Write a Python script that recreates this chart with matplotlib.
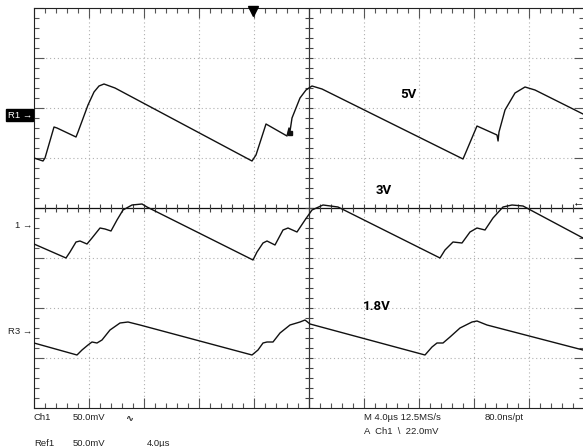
import numpy as np
from matplotlib import pyplot as plt

# time in microseconds (4 us/div), level in divisions from screen centre
r1_t = [0, 0.655, 0.8, 1.455, 1.673, 3.055, 3.2, 3.927, 4.364, 4.727, 5.091, 5.891,
        15.855, 16.145, 16.873, 18.4, 18.545, 18.6, 18.764, 19.345, 19.782, 20.218, 20.945,
        31.2, 31.418, 32.218, 33.673, 33.75, 33.818, 34.255, 34.982, 35.709, 36.436, 39.927]
r1_v = [1.0, 0.94, 1.0, 1.62, 1.6, 1.42, 1.52, 2.06, 2.32, 2.44, 2.48, 2.4,
        0.94, 1.06, 1.68, 1.44, 1.6, 1.5, 1.8, 2.2, 2.36, 2.44, 2.38,
        0.98, 1.12, 1.64, 1.46, 1.34, 1.52, 1.96, 2.3, 2.42, 2.36, 1.88]

ch1_t = [0, 2.327, 2.618, 3.055, 3.345, 3.855, 4.218, 4.8, 5.164, 5.6, 6.036, 6.473,
         7.127, 7.855, 8.218, 15.927, 16.218, 16.655, 16.945, 17.527, 18.109, 18.473,
         19.127, 19.709, 20.218, 21.018, 22.109, 29.527, 29.891, 30.473, 31.127, 31.709,
         32.218, 32.8, 33.382, 34.109, 34.764, 35.564, 39.927]
ch1_v = [-0.72, -1.0, -0.88, -0.68, -0.66, -0.72, -0.6, -0.4, -0.42, -0.46, -0.24, -0.04,
         0.06, 0.08, 0.02, -1.04, -0.88, -0.7, -0.66, -0.74, -0.44, -0.4,
         -0.48, -0.24, -0.04, 0.06, 0.02, -1.0, -0.84, -0.68, -0.7, -0.48,
         -0.4, -0.44, -0.2, 0.02, 0.06, 0.04, -0.6]

r3_t = [0, 3.127, 3.491, 3.927, 4.218, 4.582, 4.945, 5.527, 6.255, 6.836, 7.709,
        15.855, 16.291, 16.655, 16.945, 17.382, 17.891, 18.618, 19.345, 19.709, 20.073,
        28.436, 28.945, 29.309, 29.745, 30.255, 30.982, 31.855, 32.218, 32.945, 39.927]
r3_v = [-2.7, -2.94, -2.84, -2.74, -2.68, -2.7, -2.64, -2.44, -2.3, -2.28, -2.34,
        -2.94, -2.84, -2.7, -2.68, -2.68, -2.5, -2.34, -2.28, -2.24, -2.32,
        -2.94, -2.78, -2.7, -2.7, -2.58, -2.4, -2.28, -2.26, -2.34, -2.84]

ref_levels = {"R1": 1.86, "1": -0.34, "R3": -2.46}
trigger_time = 15.93
trigger_level = 0.12

W, H = 583, 447
fig = plt.figure(figsize=(W / 100, H / 100), dpi=100)
fig.patch.set_facecolor("white")
ax = fig.add_axes([34 / W, 39 / H, 550 / W, 400 / H])
ax.set_xlim(0, 40)
ax.set_ylim(-4, 4)

for s in ax.spines.values():
    s.set_color("#222222")
    s.set_linewidth(0.8)

ax.set_xticks(np.arange(0, 41, 4))
ax.set_yticks(np.arange(-4, 5, 1))
ax.set_xticks(np.arange(0, 40.1, 0.8), minor=True)
ax.set_yticks(np.arange(-4, 4.01, 0.2), minor=True)
ax.tick_params(which="both", direction="in", top=True, right=True,
               labelbottom=False, labelleft=False, color="#555555")
ax.tick_params(which="major", length=7, width=0.8)
ax.tick_params(which="minor", length=3.6, width=0.8)

# dotted graticule
for x in np.arange(4, 40, 4):
    if x != 20:
        ax.axvline(x, color="#b0b0b0", lw=0.8, ls=(0, (1, 2.5)), zorder=1)
for y in range(-3, 4):
    if y != 0:
        ax.axhline(y, color="#b0b0b0", lw=0.8, ls=(0, (1, 2.5)), zorder=1)

# centre cross with its ticks
ax.axhline(0, color="#111111", lw=0.9, zorder=2)
ax.axvline(20, color="#333333", lw=0.9, zorder=2)
ax.vlines(np.arange(0, 40.1, 0.8), -0.08, 0.08, color="#444444", lw=0.8, zorder=2)
ax.hlines(np.arange(-4, 4.01, 0.2), 20 - 0.29, 20 + 0.29, color="#444444", lw=0.8, zorder=2)

ax.plot(r1_t, r1_v, color="#111111", lw=1.0, zorder=3)
ax.plot(ch1_t, ch1_v, color="#111111", lw=1.0, zorder=3)
ax.plot(r3_t, r3_v, color="#111111", lw=1.0, zorder=3)
ax.plot([r1_t[17]], [r1_v[17]], "s", color="#111111", ms=2.2, zorder=3)

# trigger position and level markers
ax.plot([trigger_time], [4 - 0.06], marker="v", color="black", ms=7, clip_on=False, zorder=4)
ax.text(40, trigger_level, "\u2190", ha="right", va="center", fontsize=8,
        family=["Liberation Sans", "DejaVu Sans"])

small = dict(family=["Liberation Sans", "DejaVu Sans"], fontsize=6.8, color="#222222")
for name, lvl in ref_levels.items():
    if name == "R1":
        ax.text(-0.15, lvl, "R1 \u2192", ha="right", va="center", color="white",
                bbox=dict(boxstyle="square,pad=0.15", fc="black", ec="black"),
                **{k: v for k, v in small.items() if k != "color"})
    else:
        ax.text(-0.1, lvl, name + " \u2192", ha="right", va="center", **small)

big = dict(family=["Roboto", "DejaVu Sans"], fontweight="bold",
           fontsize=9.5, color="black", ha="left", va="center")
fig.text(400 / W, 1 - 95 / H, "5V", **big)
fig.text(376 / W, 1 - 191 / H, "3V", **big)
fig.text(363 / W, 1 - 306 / H, "1.8V", **big)

def px(x, y, s, **kw):
    fig.text(x / W, 1 - y / H, s, ha="left", va="center", **small, **kw)

px(34, 418, "Ch1")
px(73, 418, "50.0mV")
px(126, 418, "\u223f", fontweight="bold")
px(34, 443, "Ref1")
px(73, 443, "50.0mV")
px(147, 443, "4.0\u00b5s")
px(364, 417, "M 4.0\u00b5s 12.5MS/s")
px(485, 417, "80.0ns/pt")
px(364, 431, "A  Ch1  \\  22.0mV")

fig.savefig("out.png", dpi=100, facecolor="white")
